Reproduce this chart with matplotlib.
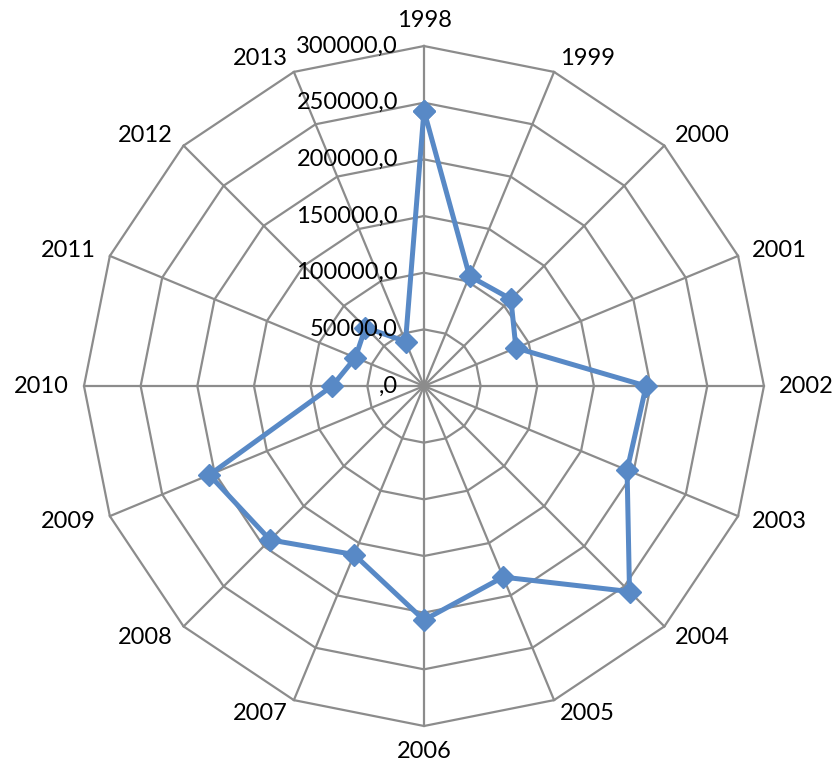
"""
Radar chart of yearly values 1998-2013 (Excel-style polygon grid).
"""
import numpy as np
import matplotlib
import matplotlib.pyplot as plt
import matplotlib.transforms as mtransforms

matplotlib.use("Agg")

plt.rcParams["font.family"] = ["Lato", "DejaVu Sans"]

YEARS = ["1998", "1999", "2000", "2001", "2002", "2003", "2004", "2005",
         "2006", "2007", "2008", "2009", "2010", "2011", "2012", "2013"]
VALUES = [243000, 105000, 108500, 87800, 196000, 194000, 256500, 182500,
          206500, 161000, 192000, 205000, 81000, 65500, 73000, 42500]
RING_VALUES = [0, 50000, 100000, 150000, 200000, 250000, 300000]
RING_LABELS = [",0", "50000,0", "100000,0", "150000,0", "200000,0",
               "250000,0", "300000,0"]

GRID = "#8c8c8c"
SERIES = "#5889c6"

fig = plt.figure(figsize=(8.34, 7.77), dpi=100)
ax = fig.add_axes([0.1007, 0.0656, 0.8153, 0.8752], projection="polar")
ax.set_theta_offset(np.pi / 2)
ax.set_theta_direction(-1)
ax.set_ylim(0, RING_VALUES[-1])
ax.set_xticks([])
ax.set_yticks([])
ax.spines["polar"].set_visible(False)
ax.patch.set_visible(False)

n = len(YEARS)
angles = np.arange(n) * 2 * np.pi / n
closed = np.append(angles, angles[0])

# polygon rings and spokes
for r in RING_VALUES[1:]:
    ax.plot(closed, [r] * (n + 1), color=GRID, lw=1.6, zorder=1, clip_on=False)
for a in angles:
    ax.plot([a, a], [0, RING_VALUES[-1]], color=GRID, lw=1.6, zorder=1, clip_on=False)

# series
vals = np.append(VALUES, VALUES[0])
ax.plot(closed, vals, color=SERIES, lw=3.6, marker="D", markersize=11.5,
        zorder=3, clip_on=False)

# ring labels, left of the top spoke
shift = mtransforms.offset_copy(ax.transData, fig=fig, x=-26, y=0, units="dots")
for r, lab in zip(RING_VALUES, RING_LABELS):
    ax.text(0, r, lab, transform=shift, ha="right", va="center",
            fontsize=17, color="black", zorder=4)

# category labels
r_lab = RING_VALUES[-1] * 355 / 340
for a, year in zip(angles, YEARS):
    s, c = np.sin(a), np.cos(a)
    if abs(s) < 1e-6:
        ha = "center"
        va = "bottom" if c > 0 else "top"
    else:
        ha = "left" if s > 0 else "right"
        va = "center"
    ax.text(a, r_lab, year, ha=ha, va=va, fontsize=17, color="black",
            clip_on=False)

fig.savefig("out.png", dpi=100)
